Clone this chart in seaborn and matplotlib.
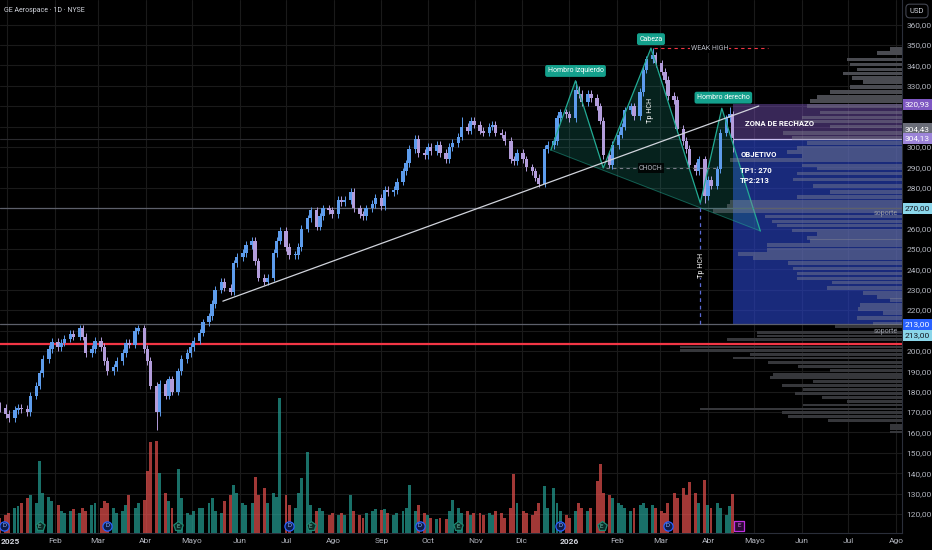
import matplotlib
matplotlib.use("Agg")
import matplotlib.pyplot as plt
import matplotlib.dates as mdates
import matplotlib.transforms as mtransforms
import matplotlib.ticker as mticker
import numpy as np
import pandas as pd
import seaborn as sns

# =========================================================
# Datos (GE Aerospace diario, cada 2 sesiones)
# =========================================================
inicio_velas = "2024-12-27"
cierres = [
    172, 169, 167, 171, 172, 171.5, 170, 178, 183, 189,
    196, 201, 204.5, 202, 204, 206, 208.5, 207, 211, 207,
    199, 201, 205, 202, 195, 190, 192, 195, 199, 204,
    203, 210, 211, 201, 195, 183, 170, 184, 178, 186,
    180, 190, 196, 199, 202, 205, 209, 214, 217, 223,
    230, 234, 231, 229, 243, 246, 248, 252, 254, 244,
    236, 234, 236, 248, 254, 259, 251, 247, 247, 251,
    260, 265, 269, 261, 266, 270, 269, 267, 274, 273,
    274, 278, 270, 267, 266, 270, 272, 275, 271, 279,
    278, 279, 283, 288, 292, 299, 304, 297, 296, 300,
    298, 301, 297, 294, 300, 302, 305, 310, 308, 313,
    311, 308, 307, 310, 311, 307, 306, 303, 294, 293,
    297, 294, 290, 288, 285, 282, 299, 301, 303, 314,
    317, 316, 314, 328, 326, 322, 326, 324, 320, 313,
    296, 291, 301, 306, 310, 318, 320, 315, 327, 338,
    343, 345, 341, 337, 333, 325, 323, 309, 303, 299,
    291, 288, 294, 276, 284, 281, 289, 307, 314, 316,
    304.43,
]
apertura_inicial = 173.0
# volumen en millones de acciones
volumen_m = [
    2.5, 3.0, 3.3, 4.2, 4.5, 5.0, 5.8, 6.3, 5.0, 12.0,
    6.7, 6.0, 5.3, 4.7, 3.7, 3.3, 3.7, 4.0, 3.3, 4.2,
    3.7, 4.7, 5.0, 4.2, 5.3, 5.0, 4.2, 3.3, 3.7, 4.7,
    6.3, 4.2, 5.0, 5.5, 10.3, 15.2, 15.3, 10.0, 6.7, 5.3,
    4.2, 10.7, 5.8, 3.3, 3.0, 3.7, 4.2, 4.2, 5.0, 5.8,
    3.7, 3.3, 5.3, 6.3, 8.0, 6.7, 5.0, 4.7, 5.0, 9.3,
    6.3, 7.5, 5.0, 6.7, 6.0, 22.5, 6.3, 4.7, 4.2, 6.7,
    9.2, 13.5, 4.7, 3.7, 4.2, 3.7, 3.0, 3.3, 3.0, 3.3,
    3.0, 6.3, 3.7, 3.0, 2.5, 3.3, 3.7, 4.0, 3.8, 4.0,
    3.3, 3.0, 3.3, 3.7, 4.2, 8.0, 3.7, 4.7, 3.3, 3.0,
    2.5, 2.3, 2.5, 2.3, 3.7, 5.5, 4.2, 3.3, 3.7, 3.0,
    3.3, 3.3, 3.0, 3.3, 3.0, 3.7, 3.3, 2.5, 4.2, 9.8,
    5.0, 3.7, 3.3, 3.0, 3.7, 5.0, 7.8, 4.2, 7.5, 5.0,
    3.7, 3.0, 2.5, 3.7, 5.0, 4.2, 3.7, 4.2, 8.7, 11.5,
    6.7, 6.3, 5.8, 5.0, 4.7, 4.2, 3.7, 4.2, 4.7, 5.0,
    4.2, 4.7, 4.2, 3.7, 3.3, 5.0, 6.7, 5.8, 7.5, 6.3,
    8.5, 6.7, 5.0, 8.8, 4.7, 4.2, 5.0, 4.2, 3.0, 4.5,
    6.5,
]
# mechas destacadas
mechas_max = {107: 314.7, 133: 332.5, 151: 348.5, 169: 319.5}
mechas_min = {36: 161.0, 125: 280.5, 141: 289.7, 163: 272.5, 170: 297.5}

# perfil de volumen (precio, volumen relativo)
perfil_precio = [
    348, 346, 343, 340.5, 338, 336, 334, 332, 329.5, 327,
    324.5, 322.5, 320, 317, 314.5, 312.5, 310, 307, 304.5, 302,
    299.5, 297.5, 295.5, 293.5, 291, 289.5, 287, 284, 281, 278,
    275.5, 273, 271, 268.5, 266, 263.5, 261.5, 259, 257.5, 255.5,
    254, 252, 249.5, 247.5, 245.5, 243, 240.5, 238, 235.5, 233.5,
    231, 228.5, 226.5, 225, 222.5, 220.5, 218.5, 216, 213.5,
    211.8, 208.9, 207.3, 205.8, 201.9, 200.0, 198.4, 196.5, 194.2, 192.2,
    190.6, 188.6, 186.8, 184.9, 182.9, 181.1, 179.2, 177.2, 175.4, 173.5,
    171.5, 169.7, 167.7, 165.8, 163.6, 162.1, 160.2,
]
perfil_vol = [
    12, 25, 55, 52, 45, 59, 50, 39, 52, 72,
    85, 92, 95, 82, 100, 109, 72, 119, 110, 95,
    105, 115, 100, 172, 100, 85, 105, 109, 89, 72,
    105, 172, 175, 189, 137, 130, 125, 110, 85, 95,
    92, 135, 135, 164, 149, 114, 109, 105, 105, 70,
    75, 39, 25, 12, 42, 44, 19, 45, 29,
    67, 145, 145, 175, 222, 222, 152, 169, 134, 104,
    72, 129, 132, 89, 120, 99, 107, 80, 55, 99,
    202, 120, 114, 74, 12, 12, 12,
]

# figura de hombro-cabeza-hombro
hch_fechas = ["2025-12-20", "2026-01-05", "2026-01-23", "2026-02-23",
              "2026-03-27", "2026-04-10", "2026-05-05"]
hch_precios = [298.5, 332.5, 289.7, 348.5, 272.5, 319.0, 258.8]

tendencia_fechas = ["2025-05-21", "2026-05-04"]
tendencia_precios = [224.4, 320.1]

zona_inicio = "2026-04-17"
zona_rechazo = (304.13, 320.93)
zona_objetivo = (213.0, 304.13)
soporte_1 = 270.0
soporte_2 = 213.0
linea_roja = 203.5
precio_actual = 304.43
weak_high = 348.5
choch = 289.7

dividendos = ["2024-12-30", "2025-03-07", "2025-07-03", "2025-09-26",
              "2025-12-26", "2026-03-06"]
resultados = ["2025-01-22", "2025-04-22", "2025-07-17", "2025-10-21",
              "2026-01-22"]
proximo_resultado = "2026-04-21"

meses = pd.date_range("2025-01-01", "2026-08-01", freq="MS")
meses_etiquetas = ["2025", "Feb", "Mar", "Abr", "Mayo", "Jun", "Jul", "Ago",
                   "Sep", "Oct", "Nov", "Dic", "2026", "Feb", "Mar", "Abr",
                   "Mayo", "Jun", "Jul", "Ago"]

# =========================================================
# Preparacion
# =========================================================
df = pd.DataFrame({
    "fecha": pd.bdate_range(inicio_velas, periods=len(cierres), freq="2B"),
    "cierre": cierres,
    "vol": volumen_m,
})
df["apertura"] = df["cierre"].shift(1).fillna(apertura_inicial)
df["maximo"] = df[["apertura", "cierre"]].max(axis=1) + 1.8
df["minimo"] = df[["apertura", "cierre"]].min(axis=1) - 1.8
for k, v in mechas_max.items():
    df.loc[k, "maximo"] = v
for k, v in mechas_min.items():
    df.loc[k, "minimo"] = v
df["sube"] = df["cierre"] >= df["apertura"]
xn = mdates.date2num(df["fecha"])

d2n = lambda s: mdates.date2num(pd.Timestamp(s))
base = d2n("2025-01-01")
x_izq, x_der = base - 4.7, base + 581

# etiquetas de precio del eje derecho: (posicion, valor, fondo, texto)
etiquetas_eje = [
    (zona_rechazo[1], zona_rechazo[1], "#7e57c2", "white"),
    (precio_actual + 4.5, precio_actual, "#6a6d78", "white"),
    (zona_rechazo[0], zona_rechazo[0], "#9c84d8", "white"),
    (soporte_1, soporte_1, "#8ad6ea", "#131722"),
    (soporte_2, soporte_2, "#2962ff", "white"),
    (soporte_2 - 5.4, soporte_2, "#8ad6ea", "#131722"),
]

# =========================================================
# Estilo
# =========================================================
sns.set_theme(style="dark", rc={"axes.facecolor": "black",
                                "figure.facecolor": "black",
                                "savefig.facecolor": "black"})
plt.rcParams["font.family"] = ["Roboto", "DejaVu Sans"]

GRIS = "#b2b5be"
fig = plt.figure(figsize=(9.32, 5.5), dpi=100)
ax = fig.add_axes([0, 17 / 550, 902 / 932, 533 / 550])
ax.set_xlim(x_izq, x_der)
ax.set_ylim(110.7, 372.1)

# zonas
xz = d2n(zona_inicio)
ax.fill_between([xz, x_der], *zona_rechazo, color="#7e57c2", alpha=0.45, lw=0, zorder=1)
ax.fill_between([xz, x_der], *zona_objetivo, color="#2a44c8", alpha=0.62, lw=0, zorder=1)
ax.hlines(zona_rechazo[0], xz, x_der, color="#c9bdf0", lw=0.9, zorder=2)

# lineas horizontales
ax.axhline(soporte_1, color="#5d606b", lw=0.9, zorder=1.5)
ax.axhline(soporte_2, color="#5d606b", lw=0.9, zorder=1.5)
ax.axhline(linea_roja, color="#f23645", lw=1.6, zorder=1.5)
ax.axhline(zona_rechazo[0], color="#2a2a2e", lw=0.8, zorder=1.2)

# figura HCH
hx = mdates.date2num(pd.to_datetime(hch_fechas))
ax.fill(hx, hch_precios, color="#22ab94", alpha=0.2, lw=0, zorder=1.8)
ax.plot([hx[0], hx[-1]], [hch_precios[0], hch_precios[-1]],
        color="#22ab94", alpha=0.5, lw=0.7, zorder=1.8)
sns.lineplot(x=hx, y=hch_precios, ax=ax, sort=False, estimator=None,
             color="#22ab94", lw=0.9, zorder=4)

# linea de tendencia
sns.lineplot(x=mdates.date2num(pd.to_datetime(tendencia_fechas)), y=tendencia_precios,
             ax=ax, sort=False, estimator=None, color="#d1d4dc", lw=0.9, zorder=4)

# velas
col_velas = np.where(df["sube"], "#5d9cec", "#b39ddb")
ax.vlines(xn, df["minimo"], df["maximo"], colors=col_velas, lw=0.7, zorder=3)
cuerpo = (df["cierre"] - df["apertura"]).abs().clip(lower=0.5)
ax.bar(xn, cuerpo, bottom=df[["apertura", "cierre"]].min(axis=1),
       width=2.2, color=col_velas, lw=0, zorder=3)

# Tp HCH, WEAK HIGH, CHOCH
ax.vlines(hx[4], soporte_2, hch_precios[4], colors="#5b6bd6", linestyles=(0, (3, 3)),
          lw=0.9, zorder=4)
ax.hlines(weak_high, d2n("2026-02-25"), d2n("2026-05-10"), colors="#f23645",
          linestyles=(0, (3, 3)), lw=0.8, zorder=4)
ax.hlines(choch, d2n("2026-01-25"), d2n("2026-04-08"), colors="#787b86",
          linestyles=(0, (3, 3)), lw=0.8, zorder=4)

# ejes
ocultas = [e[0] for e in etiquetas_eje]
def fmt_precio(v, p):
    if any(abs(v - o) < 4 for o in ocultas):
        return ""
    return f"{v:.2f}".replace(".", ",")

ax.set_yticks(np.arange(120, 361, 10))
ax.yaxis.set_major_formatter(mticker.FuncFormatter(fmt_precio))
ax.set_xticks(mdates.date2num(meses))
ax.set_xticklabels([""] + meses_etiquetas[1:])
ax.grid(True, color="#1a1a1a", lw=0.8)
ax.set_axisbelow(True)
for s in ["top", "left"]:
    ax.spines[s].set_visible(False)
for s in ["right", "bottom"]:
    ax.spines[s].set_color("#2a2e39")
    ax.spines[s].set_linewidth(0.8)

# volumen
ax_vol = ax.twinx()
ax_vol.set_ylim(0, 533 / 6)
col_vol = np.where(df["sube"], "#26a69a", "#ef5350")
ax_vol.bar(xn, df["vol"], width=1.9, color=col_vol, alpha=0.68, lw=0)
ax_vol.scatter(mdates.date2num(pd.to_datetime(dividendos)), [1.2] * len(dividendos),
               s=44, marker="o", facecolor="#0d1a45", edgecolor="#2962ff", lw=0.9, zorder=5)
for f in dividendos:
    ax_vol.text(d2n(f), 1.2, "D", color="#8fb0ff", fontsize=4.5, ha="center", va="center", zorder=6)
ax_vol.scatter(mdates.date2num(pd.to_datetime(resultados)), [1.2] * len(resultados),
               s=50, marker="p", facecolor="#0a2a24", edgecolor="#1e8a74", lw=0.9, zorder=5)
for f in resultados:
    ax_vol.text(d2n(f), 1.1, "E", color="#6fc9b5", fontsize=4.5, ha="center", va="center", zorder=6)
ax_vol.scatter([d2n(proximo_resultado)], [1.2], s=44, marker="s", facecolor="#2a0a33",
               edgecolor="#c030e0", lw=0.9, zorder=5)
ax_vol.text(d2n(proximo_resultado), 1.2, "E", color="#e070f0", fontsize=4.5,
            ha="center", va="center", zorder=6)
ax_vol.set_axis_off()

# perfil de volumen
ax_prof = ax.twiny()
ax_prof.set_xlim(902, 0)
for p, w in zip(perfil_precio, perfil_vol):
    if zona_objetivo[0] <= p <= zona_rechazo[1]:
        ax_prof.barh(p, w, height=1.8, left=0, color="#8a8d96", alpha=0.4, lw=0)
    elif p > zona_rechazo[1]:
        ax_prof.barh(p, w, height=1.8, left=0, color="#4a4b51", lw=0)
    else:
        ax_prof.barh(p, w, height=1.4, left=0, color="#36373b", lw=0)
ax_prof.set_axis_off()

ax.yaxis.tick_right()
ax.tick_params(axis="y", colors=GRIS, labelsize=6.0, length=0, pad=3)
ax.tick_params(axis="x", colors=GRIS, labelsize=6.0, length=0, pad=3.5)
for lbl in ax.get_xticklabels():
    if lbl.get_text() == "2026":
        lbl.set_fontweight("bold")
        lbl.set_color("#d1d4dc")
fig.text(1 / 932, 1 - 542 / 550, "2025", color="#d1d4dc", fontsize=6.0,
         fontweight="bold", ha="left", va="center")

# textos
td = ax.transData
def etiqueta(fecha, precio, texto):
    ax_prof.text(d2n(fecha), precio, texto, transform=td, color="white", fontsize=5.0,
                 ha="center", va="center", zorder=10,
                 bbox=dict(boxstyle="round,pad=0.35,rounding_size=0.3", fc="#14a08c", ec="none"))

etiqueta("2026-01-05", 337.3, "Hombro izquierdo")
etiqueta("2026-02-23", 352.9, "Cabeza")
etiqueta("2026-04-11", 324.2, "Hombro derecho")

ax_prof.text(d2n("2026-04-02"), weak_high, "WEAK HIGH", transform=td, color=GRIS,
             fontsize=5.0, ha="center", va="center", zorder=10,
             bbox=dict(fc="black", ec="none", pad=0.8))
ax_prof.text(d2n("2026-02-23"), choch, "CHOCH", transform=td, color=GRIS,
             fontsize=5.0, ha="center", va="center", zorder=10,
             bbox=dict(fc="black", ec="none", pad=0.8, alpha=0.8))
ax_prof.text(d2n("2026-02-23"), 318, "Tp HCH", transform=td, color="white",
             fontsize=5.2, rotation=90, ha="center", va="center", zorder=10)
ax_prof.text(hx[4] + 0.6, 242, "Tp HCH", transform=td, color="white",
             fontsize=5.2, rotation=90, ha="center", va="center", zorder=10,
             bbox=dict(fc="black", ec="none", pad=0.4))

for fecha, precio, texto in [("2026-04-25", 311.7, "ZONA DE RECHAZO"),
                             ("2026-04-22", 296.5, "OBJETIVO"),
                             ("2026-04-22", 288.7, "TP1: 270"),
                             ("2026-04-22", 283.8, "TP2:213")]:
    ax_prof.text(d2n(fecha), precio, texto, transform=td, color="white",
                 fontsize=5.6, fontweight="bold", ha="left", va="center", zorder=10)
ax_prof.text(x_der - 2.5, 267.2, "soporte", transform=td, color="#9598a1",
             fontsize=5.0, ha="right", va="center", zorder=10)
ax_prof.text(x_der - 2.5, 209.5, "soporte", transform=td, color="#9598a1",
             fontsize=5.0, ha="right", va="center", zorder=10)

# etiquetas de precio en el eje derecho
tr_eje = mtransforms.blended_transform_factory(ax.transAxes, ax.transData)
for y_txt, valor, fondo, color_txt in etiquetas_eje:
    ax_prof.text(1.0 + 3 / 902, y_txt, f"{valor:.2f}".replace(".", ","), transform=tr_eje,
                 color=color_txt, fontsize=6.0, ha="left", va="center", zorder=20,
                 clip_on=False,
                 bbox=dict(boxstyle="square,pad=0.3", fc=fondo, ec="none"))

fig.text(4 / 932, 1 - 10 / 550, "GE Aerospace · 1D · NYSE", color="#d1d4dc",
         fontsize=5.0, ha="left", va="center")
fig.text(917 / 932, 1 - 11 / 550, "USD", color="#d1d4dc", fontsize=5.5,
         ha="center", va="center",
         bbox=dict(boxstyle="round,pad=0.5", fc="black", ec="#434651", lw=0.8))

fig.savefig("out.png", dpi=100, facecolor="black")
